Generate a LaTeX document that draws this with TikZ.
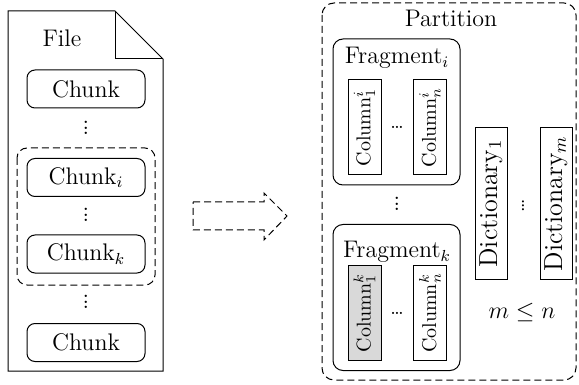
\documentclass[tikz,border=0pt]{standalone}
\usetikzlibrary{positioning}
\newcommand\myvdots{\vbox{\baselineskip=2.9pt\lineskiplimit=-20pt\hbox{.}\hbox{.}\hbox{.}}}
\begin{document}
\begin{tikzpicture}[x=0.5pt,y=-0.5pt,line width=0.5pt,
  chunkbox/.style={draw,rounded corners=4pt,minimum width=59pt,minimum height=19pt,inner sep=0pt,font=\large},
  fragbox/.style={draw,rounded corners=5pt,minimum width=63.5pt,minimum height=73pt,inner sep=0pt},
  colbox/.style={draw,rotate=90,minimum width=47.5pt,minimum height=16.5pt,inner sep=0pt},
  dictbox/.style={draw,rotate=90,minimum width=75.5pt,minimum height=16pt,inner sep=0pt,font=\fontsize{13}{15}\selectfont},
  dashline/.style={dash pattern=on 3.5pt off 2pt},
  lbl/.style={inner sep=0pt,font=\large},
  vdot/.style={inner sep=0pt,font=\large}]
\useasboundingbox (0,0) rectangle (579,385);
% File shape
\draw (8,11) -- (115,11) -- (163,59) -- (163,371) -- (8,371) -- cycle;
\draw (115,11) -- (115,59) -- (163,59);
\node[lbl] (file) at (62,38) {File};
\node[chunkbox] (c1) at (86,89) {Chunk};
\node[vdot] (d1) at (86,128) {\myvdots};
\node[chunkbox] (ci) at (86,177.5) {Chunk$_i$};
\node[vdot] (d2) at (86,215) {\myvdots};
\node[chunkbox] (ck) at (86,254) {Chunk$_k$};
\node[vdot] (d3) at (86,302) {\myvdots};
\node[chunkbox] (cn) at (86,342.5) {Chunk};
\draw[dashline,rounded corners=5pt] (17,148) rectangle (155,285);
% Arrow
\draw[dashline] (193,202) -- (264,202) -- (264,193) -- (287,216) -- (264,240) -- (264,230) -- (193,230) -- cycle;
% Partition
\draw[dashline,rounded corners=6pt] (322,3) rectangle (576,380);
\node[lbl] (part) at (451,18) {Partition};
% Fragment i
\node[fragbox] (fi) at (396.5,112) {};
\node[lbl] (fit) at (397,58) {Fragment$_i$};
\node[colbox] (ci1) at (364.5,127.5) {Column$^i_1$};
\node[colbox] (cin) at (430,127.5) {Column$^i_n$};
\node[inner sep=0pt] (hd1) at (397,127.5) {\dots};
\node[vdot] (vd) at (397,204) {\myvdots};
% Fragment k
\node[fragbox] (fk) at (396.5,297.5) {};
\node[lbl] (fkt) at (397,252) {Fragment$_k$};
\node[colbox,fill=black!15] (ck1) at (364.5,313) {Column$^k_1$};
\node[colbox] (ckn) at (430,313) {Column$^k_n$};
\node[inner sep=0pt] (hd2) at (397,313) {\dots};
% Dictionaries
\node[dictbox] (dict1) at (491,203.5) {Dictionary$_1$};
\node[dictbox] (dictm) at (556,203.5) {Dictionary$_m$};
\node[inner sep=0pt,rotate=90] (hd3) at (523,206) {\dots};
\node[lbl] (mn) at (522,312) {$m\le n$};
\end{tikzpicture}
\end{document}
